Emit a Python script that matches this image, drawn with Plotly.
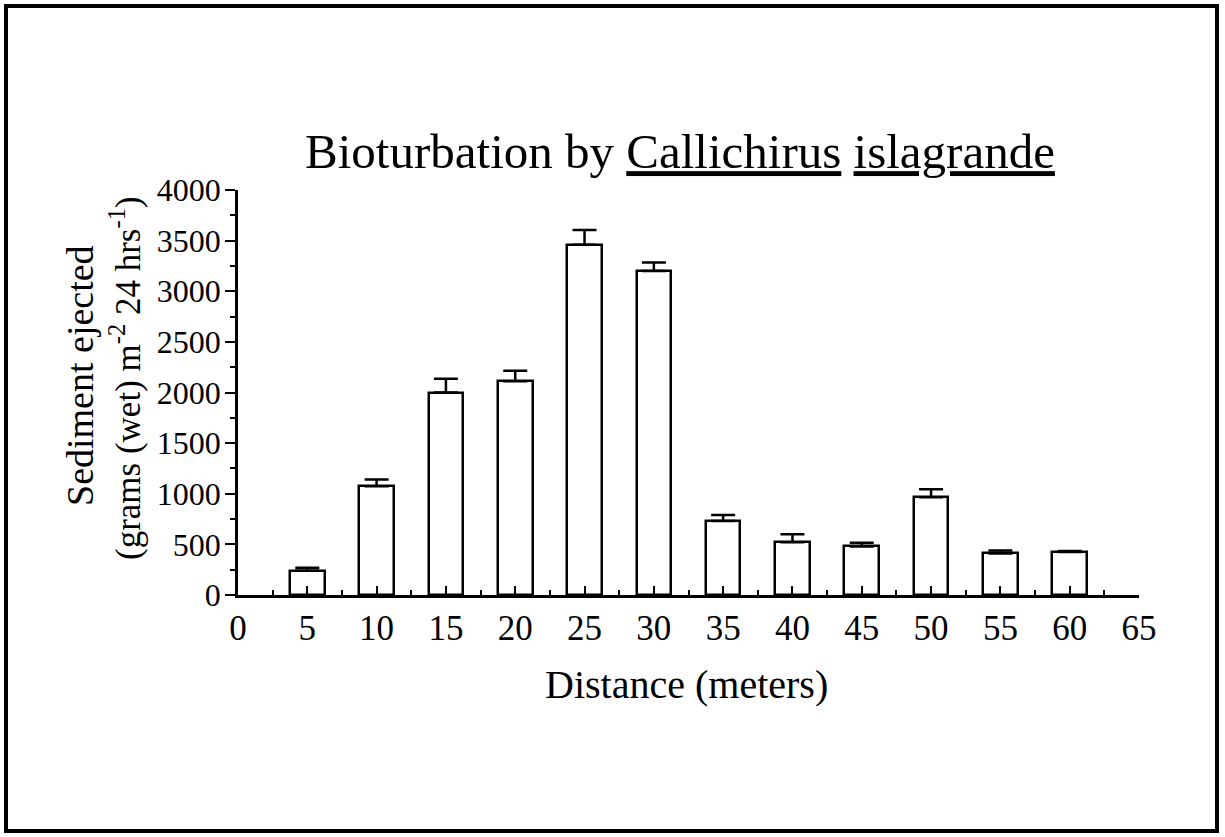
import plotly.graph_objects as go

# Sediment ejected by burrowing shrimp along a transect
distance_m = [5, 10, 15, 20, 25, 30, 35, 40, 45, 50, 55, 60]
sediment_g = [240, 1075, 2000, 2110, 3460, 3200, 730, 520, 480, 965, 410, 425]
sediment_err = [30, 65, 135, 105, 145, 85, 60, 80, 35, 80, 30, 10]

x_ticks = list(range(0, 70, 5))
y_ticks = list(range(0, 4500, 500))

SERIF = "Liberation Serif, Times New Roman, serif"

fig = go.Figure()
fig.add_trace(go.Bar(
    x=distance_m,
    y=sediment_g,
    width=2.5,
    marker=dict(color="white", line=dict(color="black", width=2.5)),
    error_y=dict(type="data", symmetric=False, array=sediment_err,
                 arrayminus=[0] * len(sediment_err),
                 color="black", thickness=2.5, width=12),
    showlegend=False,
))

# plot area in pixels (for converting positions of free text)
L, R, T, B = 238, 1139, 190, 595
W, H = R - L, B - T


def px(xp):
    return (xp - L) / W


def py(yp):
    return (B - yp) / H


fig.update_layout(
    width=1225, height=837,
    margin=dict(l=L, r=1225 - R, t=T, b=837 - B, pad=0),
    paper_bgcolor="white", plot_bgcolor="white",
    font=dict(family=SERIF, color="black", size=30),
    bargap=0,
    title=dict(
        text="Bioturbation by <u>Callichirus</u> <u>islagrande</u>",
        x=680 / 1225, xanchor="center",
        y=1 - 151 / 837, yanchor="middle",
        font=dict(family=SERIF, size=49, color="black"),
    ),
    xaxis=dict(
        range=[0, 65], tickvals=x_ticks, ticktext=[str(v) for v in x_ticks],
        showline=True, linecolor="black", linewidth=2.5,
        ticks="inside", ticklen=9, tickwidth=2, tickcolor="black",
        minor=dict(dtick=2.5, tick0=0, ticks="inside", ticklen=5,
                   tickwidth=1.5, tickcolor="black"),
        showgrid=False, zeroline=False,
        tickfont=dict(family=SERIF, size=35, color="black"),
        ticklabelstandoff=0,
    ),
    yaxis=dict(
        range=[0, 4000], tickvals=y_ticks, ticktext=[str(v) for v in y_ticks],
        showline=True, linecolor="black", linewidth=2.5,
        ticks="outside", ticklen=10, tickwidth=2, tickcolor="black",
        minor=dict(dtick=250, tick0=0, ticks="outside", ticklen=5,
                   tickwidth=1.5, tickcolor="black"),
        showgrid=False, zeroline=False,
        tickfont=dict(family=SERIF, size=32, color="black"),
        ticklabelstandoff=-2,
    ),
)

fig.add_annotation(
    text="Sediment ejected", textangle=-90,
    xref="paper", yref="paper", x=px(80), y=py(376),
    xanchor="center", yanchor="middle", showarrow=False,
    font=dict(family=SERIF, size=38, color="black"),
)
fig.add_annotation(
    text="(grams (wet) m<sup>-2</sup> 24 hrs<sup>-1</sup>)", textangle=-90,
    xref="paper", yref="paper", x=px(125), y=py(378),
    xanchor="center", yanchor="middle", showarrow=False,
    font=dict(family=SERIF, size=35, color="black"),
)
fig.add_annotation(
    text="Distance (meters)",
    xref="paper", yref="paper", x=px(686), y=py(684),
    xanchor="center", yanchor="middle", showarrow=False,
    font=dict(family=SERIF, size=40, color="black"),
)

# page frame
fig.add_shape(
    type="rect", xref="paper", yref="paper",
    x0=px(6), x1=px(1217), y0=py(831), y1=py(6),
    line=dict(color="black", width=4), fillcolor="rgba(0,0,0,0)", layer="above",
)

fig.write_html("out.html")
